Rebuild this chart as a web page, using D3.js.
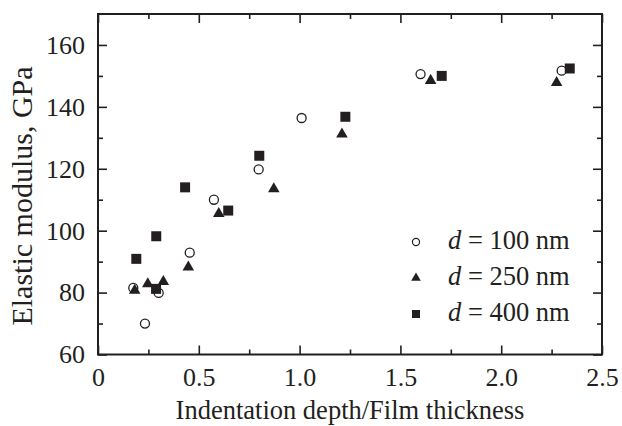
<!DOCTYPE html>
<html>
<head>
<meta charset="utf-8">
<script src="https://cdn.jsdelivr.net/npm/d3@7"></script>
<style>
  body { margin: 0; background: #fff; }
  svg text { font-family: "Liberation Serif", "Times New Roman", Times, serif !important; }
</style>
</head>
<body>
<div id="chart"></div>
<script>
// data
var x100 = [0.175, 0.233, 0.301, 0.455, 0.575, 0.797, 1.01, 1.60, 2.30]
var y100 = [81.5, 70.0, 79.9, 92.9, 110.0, 119.8, 136.4, 150.6, 151.7]
var x250 = [0.182, 0.247, 0.324, 0.448, 0.599, 0.872, 1.21, 1.65, 2.275]
var y250 = [80.7, 82.8, 83.5, 88.2, 105.5, 113.5, 131.2, 148.5, 147.8]
var x400 = [0.19, 0.289, 0.288, 0.432, 0.646, 0.80, 1.227, 1.705, 2.34]
var y400 = [90.9, 98.2, 81.2, 114.0, 106.5, 124.2, 136.8, 150.0, 152.4]
var seriesNames = ["d = 100 nm", "d = 250 nm", "d = 400 nm"]
var xTicks = [0, 0.5, 1.0, 1.5, 2.0, 2.5]
var yTicks = [60, 80, 100, 120, 140, 160]

var width = 622, height = 426
var margin = {top: 14, right: 20, bottom: 71.5, left: 98}
var w = width - margin.left - margin.right
var h = height - margin.top - margin.bottom

var svg = d3.select("#chart").append("svg")
    .attr("width", width)
    .attr("height", height)

var g = svg.append("g")
    .attr("transform", "translate(" + margin.left + "," + margin.top + ")")

var x = d3.scaleLinear().domain([0, 2.5]).range([0, w])
var y = d3.scaleLinear().domain([60, 170]).range([h, 0])

var xMinor = d3.range(0.25, 2.5, 0.5)
var yMinor = d3.range(70, 170, 20)

function styleAxis(sel) {
  sel.select(".domain").remove()
  sel.selectAll(".tick line").attr("stroke", "#231f20").attr("stroke-width", 1.6)
  sel.selectAll(".tick text")
    .attr("font-size", 26)
    .attr("fill", "#231f20")
}

// bottom axis (labels) + minor ticks
g.append("g").attr("transform", "translate(0," + h + ")")
  .call(d3.axisBottom(x).tickValues(xTicks).tickSize(-9).tickPadding(13)
    .tickFormat(function(d) { return d === 0 ? "0" : d3.format(".1f")(d) }))
  .call(styleAxis)
g.append("g").attr("transform", "translate(0," + h + ")")
  .call(d3.axisBottom(x).tickValues(xMinor).tickSize(-5).tickFormat(""))
  .call(styleAxis)
// top axis
g.append("g")
  .call(d3.axisTop(x).tickValues(xTicks).tickSize(-9).tickFormat(""))
  .call(styleAxis)
g.append("g")
  .call(d3.axisTop(x).tickValues(xMinor).tickSize(-5).tickFormat(""))
  .call(styleAxis)
// left axis
g.append("g")
  .call(d3.axisLeft(y).tickValues(yTicks).tickSize(-9).tickPadding(13))
  .call(styleAxis)
g.append("g")
  .call(d3.axisLeft(y).tickValues(yMinor).tickSize(-5).tickFormat(""))
  .call(styleAxis)
// right axis
g.append("g").attr("transform", "translate(" + w + ",0)")
  .call(d3.axisRight(y).tickValues(yTicks).tickSize(-9).tickFormat(""))
  .call(styleAxis)
g.append("g").attr("transform", "translate(" + w + ",0)")
  .call(d3.axisRight(y).tickValues(yMinor).tickSize(-5).tickFormat(""))
  .call(styleAxis)

// frame
g.append("rect")
    .attr("width", w)
    .attr("height", h)
    .attr("fill", "none")
    .attr("stroke", "#231f20")
    .attr("stroke-width", 2)

// series
var series = [
  {xs: x100, ys: y100, type: d3.symbolCircle, size: 64, fill: "#fff", lsize: 40},
  {xs: x250, ys: y250, type: d3.symbolTriangle, size: 58, fill: "#231f20", lsize: 40},
  {xs: x400, ys: y400, type: d3.symbolSquare, size: 100, fill: "#231f20", lsize: 64}
]

series.forEach(function(s) {
  g.selectAll(null)
    .data(d3.zip(s.xs, s.ys))
    .enter()
    .append("path")
      .attr("d", d3.symbol().type(s.type).size(s.size))
      .attr("transform", function(d) { return "translate(" + x(d[0]) + "," + y(d[1]) + ")" })
      .attr("fill", s.fill)
      .attr("stroke", "#231f20")
      .attr("stroke-width", s.type === d3.symbolCircle ? 1.3 : 0)
})

// legend
var legend = svg.append("g").attr("transform", "translate(416,242)")
series.forEach(function(s, i) {
  var row = legend.append("g").attr("transform", "translate(0," + (i * 36) + ")")
  row.append("path")
    .attr("d", d3.symbol().type(s.type).size(s.lsize))
    .attr("fill", s.fill)
    .attr("stroke", "#231f20")
    .attr("stroke-width", s.type === d3.symbolCircle ? 1.2 : 0)
  var t = row.append("text")
    .attr("x", 32)
    .attr("y", 7)
    .attr("font-size", 26.5)
    .attr("fill", "#231f20")
  t.append("tspan").attr("font-style", "italic").text(seriesNames[i].split(" = ")[0])
  t.append("tspan").text(" = " + seriesNames[i].split(" = ")[1])
})

// axis titles
svg.append("text")
    .attr("x", margin.left + w / 2)
    .attr("y", 419)
    .attr("text-anchor", "middle")
    .attr("font-size", 26.5)
    .attr("fill", "#231f20")
    .text("Indentation depth/Film thickness")

svg.append("text")
    .attr("transform", "translate(32,196) rotate(-90)")
    .attr("text-anchor", "middle")
    .attr("font-size", 30)
    .attr("fill", "#231f20")
    .text("Elastic modulus, GPa")
</script>
</body>
</html>
